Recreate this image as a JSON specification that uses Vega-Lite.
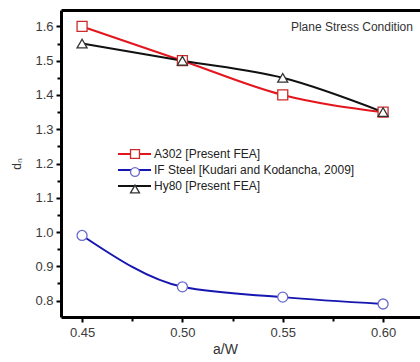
{
  "$schema": "https://vega.github.io/schema/vega-lite/v6.json",
  "width": 359,
  "height": 307,
  "autosize": {"type": "none"},
  "padding": {"left": 61, "top": 10, "right": 0, "bottom": 45},
  "background": "white",
  "config": {
    "view": {"stroke": null},
    "font": "Liberation Sans",
    "axis": {"grid": false, "labelFont": "Liberation Sans", "titleFont": "Liberation Sans", "labelColor": "#3a3a3a", "titleColor": "#333", "domainColor": "#000", "tickColor": "#000", "titleFontWeight": "normal"},
    "legend": {"labelFont": "Liberation Sans", "labelFontSize": 12, "labelColor": "#222", "labelLimit": 400, "padding": 0, "rowPadding": 4}
  },
  "data": {
    "values": [
      {"series": "A302 [Present FEA]", "aw": 0.45, "dn": 1.60},
      {"series": "A302 [Present FEA]", "aw": 0.50, "dn": 1.50},
      {"series": "A302 [Present FEA]", "aw": 0.55, "dn": 1.40},
      {"series": "A302 [Present FEA]", "aw": 0.60, "dn": 1.35},
      {"series": "IF Steel [Kudari and Kodancha, 2009]", "aw": 0.45, "dn": 0.99},
      {"series": "IF Steel [Kudari and Kodancha, 2009]", "aw": 0.50, "dn": 0.84},
      {"series": "IF Steel [Kudari and Kodancha, 2009]", "aw": 0.55, "dn": 0.81},
      {"series": "IF Steel [Kudari and Kodancha, 2009]", "aw": 0.60, "dn": 0.79},
      {"series": "Hy80 [Present FEA]", "aw": 0.45, "dn": 1.55},
      {"series": "Hy80 [Present FEA]", "aw": 0.50, "dn": 1.50},
      {"series": "Hy80 [Present FEA]", "aw": 0.55, "dn": 1.45},
      {"series": "Hy80 [Present FEA]", "aw": 0.60, "dn": 1.35}
    ]
  },
  "resolve": {"axis": {"x": "independent", "y": "independent"}},
  "layer": [
    {
      "mark": {"type": "point", "opacity": 0},
      "encoding": {
        "x": {"field": "aw", "type": "quantitative", "scale": {"domain": [0.4395, 0.6184], "zero": false, "nice": false},
          "axis": {"orient": "bottom", "values": [0.475, 0.525, 0.575], "labels": false, "domain": false, "tickSize": 4, "tickWidth": 2, "title": null}},
        "y": {"field": "dn", "type": "quantitative", "scale": {"domain": [0.752, 1.648], "zero": false, "nice": false},
          "axis": {"orient": "left", "values": [0.85, 0.95, 1.05, 1.15, 1.25, 1.35, 1.45, 1.55], "labels": false, "domain": false, "tickSize": 4, "tickWidth": 2, "title": null}}
      }
    },
    {
      "mark": {"type": "line", "interpolate": "monotone", "strokeWidth": 2},
      "encoding": {
        "x": {"field": "aw", "type": "quantitative",
          "axis": {"orient": "bottom", "values": [0.45, 0.5, 0.55, 0.6], "format": ".2f", "labelFontSize": 13, "labelPadding": 4, "tickSize": 5, "tickWidth": 2, "domainWidth": 3, "title": "a/W", "titleFontSize": 14, "titlePadding": 3, "titleX": 164}},
        "y": {"field": "dn", "type": "quantitative",
          "axis": {"orient": "left", "values": [0.8, 0.9, 1.0, 1.1, 1.2, 1.3, 1.4, 1.5, 1.6], "format": ".1f", "labelFontSize": 13, "labelPadding": 3, "tickSize": 5, "tickWidth": 2, "domainWidth": 3, "title": "dₙ", "titleFontSize": 12, "titlePadding": 11}},
        "color": {"field": "series", "type": "nominal",
          "sort": ["A302 [Present FEA]", "IF Steel [Kudari and Kodancha, 2009]", "Hy80 [Present FEA]"],
          "scale": {"range": ["#e3161d", "#1616b0", "#111111"]},
          "legend": {
            "orient": "none", "legendX": 67.5, "legendY": 138, "title": null,
            "labelOffset": 13.5, "symbolSize": 100, "symbolOffset": 0, "symbolStrokeWidth": 2,
            "symbolType": "M-3.3,0H3.3"
          }}
      }
    },
    {
      "mark": {"type": "point", "filled": true, "fill": "white", "opacity": 1, "strokeWidth": 1.3},
      "encoding": {
        "x": {"field": "aw", "type": "quantitative",
          "axis": {"orient": "top", "labels": false, "ticks": false, "domainWidth": 3, "title": null}},
        "y": {"field": "dn", "type": "quantitative", "axis": null},
        "stroke": {"field": "series", "type": "nominal",
          "scale": {"domain": ["A302 [Present FEA]", "IF Steel [Kudari and Kodancha, 2009]", "Hy80 [Present FEA]"], "range": ["#cc2b2b", "#6a6acc", "#333333"]},
          "legend": {"orient": "none", "legendX": 67.5, "legendY": 138, "title": null, "labelOffset": 13.5, "symbolSize": 80, "symbolOffset": 0.5, "symbolStrokeWidth": 1.3, "symbolFillColor": "white", "labelExpr": "''", "rowPadding": 2}},
        "shape": {"field": "series", "type": "nominal",
          "scale": {"domain": ["A302 [Present FEA]", "IF Steel [Kudari and Kodancha, 2009]", "Hy80 [Present FEA]"], "range": ["square", "circle", "triangle-up"]},
          "legend": {"orient": "none", "legendX": 67.5, "legendY": 138, "title": null, "labelOffset": 13.5, "symbolSize": 80, "symbolOffset": 0.5, "symbolStrokeWidth": 1.3, "symbolFillColor": "white", "labelExpr": "''", "rowPadding": 2}},
        "size": {"value": 100}
      }
    },
    {
      "data": {"values": [{}]},
      "mark": {"type": "text", "text": "Plane Stress Condition", "align": "right", "baseline": "middle", "fontSize": 12, "font": "Liberation Sans", "color": "#333"},
      "encoding": {
        "x": {"datum": 0.6149, "type": "quantitative", "axis": null},
        "y": {"datum": 1.598, "type": "quantitative", "axis": null}
      }
    }
  ]
}
